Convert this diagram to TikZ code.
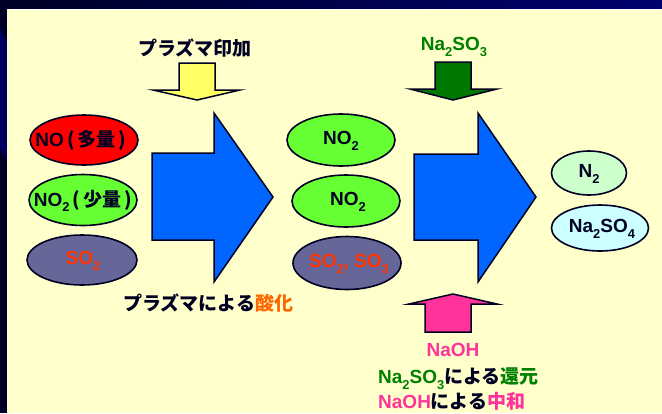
\documentclass[tikz,border=0pt]{standalone}
\usepackage{fontspec}
\setmainfont{Liberation Sans}
\newfontfamily\jp{Noto Sans CJK JP}
\usetikzlibrary{shapes.geometric}
\definecolor{bgy}{RGB}{255,255,204}
\definecolor{navyd}{RGB}{0,0,38}
\definecolor{navyb}{RGB}{0,0,110}
\definecolor{ink}{RGB}{0,0,35}
\definecolor{ablue}{RGB}{0,102,255}
\definecolor{ayel}{RGB}{255,255,102}
\definecolor{agreen}{RGB}{0,120,0}
\definecolor{tgreen}{RGB}{0,128,0}
\definecolor{apink}{RGB}{255,51,153}
\definecolor{ored}{RGB}{255,51,0}
\definecolor{oorange}{RGB}{255,102,0}
\definecolor{ered}{RGB}{255,0,0}
\definecolor{egreen}{RGB}{102,255,51}
\definecolor{epurple}{RGB}{102,102,153}
\definecolor{elgreen}{RGB}{204,255,204}
\definecolor{elcyan}{RGB}{204,255,255}
\newcommand\sbs[1]{\raisebox{-0.3em}{\scalebox{0.68}{#1}}}
\newcommand\jpb{\jp\bfseries}
\tikzset{
  oval/.style={ellipse, draw=ink, line width=1.6pt, inner sep=0pt},
  lbl/.style={font=\fontsize{19}{21}\selectfont\bfseries, text=ink, inner sep=0pt},
  captxt/.style={font=\fontsize{19}{22}\selectfont\bfseries, text=ink, inner sep=0pt},
  barrow/.style={draw=ink, line width=1.5pt, line join=miter},
}
\begin{document}
\begin{tikzpicture}[x=1pt,y=-1pt]
\useasboundingbox (0,0) rectangle (662,413);
% slide background
\fill[navyd] (0,0) rectangle (662,413);
\shade[left color=navyd, right color=navyb] (0,0) rectangle (662,9);
\fill[navyb!80!navyd] (0,28) -- (7,42) -- (7,160) -- (0,148) -- cycle;
\fill[bgy] (7,9) rectangle (662,413);
\draw[white, line width=0.8pt] (7,9.4) -- (662,9.4);

% big process arrows
\filldraw[fill=ablue, barrow] (152,153) -- (214,153) -- (214,113) -- (273,197) -- (214,282) -- (214,240) -- (152,240) -- cycle;
\filldraw[fill=ablue, barrow] (414,154) -- (478,154) -- (478,113) -- (536,197) -- (478,282) -- (478,240) -- (414,240) -- cycle;

% small input arrows
\filldraw[fill=ayel, barrow] (179,63) -- (215,63) -- (215,90) -- (240,90) -- (197,100) -- (153,90) -- (179,90) -- cycle;
\filldraw[fill=agreen, barrow] (435,62) -- (471,62) -- (471,89) -- (497,89) -- (453,100) -- (410,89) -- (435,89) -- cycle;
\filldraw[fill=apink, barrow] (425,332) -- (471,332) -- (471,304) -- (497,304) -- (453,294) -- (409,304) -- (425,304) -- cycle;

% captions
\node[captxt] (plasma) at (195,48) {\jpb プラズマ印加};
\node[captxt, text=tgreen] (na2so3) at (454,47) {Na\sbs{2}SO\sbs{3}};
\node[captxt, anchor=west] (oxid) at (123,303) {\jpb プラズマによる{\color{oorange}酸化}};
\node[captxt, text=apink] (naoh) at (453,350) {NaOH};
\node[captxt, anchor=west] (red) at (378,379) {{\color{tgreen}Na\sbs{2}SO\sbs{3}}{\jpb による{\color{tgreen}還元}}};
\node[captxt, anchor=west] (neu) at (378,401.5) {{\color{apink}NaOH}{\jpb による{\color{apink}中和}}};

% left column
\node[oval, fill=ered, minimum width=108pt, minimum height=50pt] (no1) at (84,140) {};
\node[lbl] at (81,140) {NO\,{\jpb(\,多量\,)}};
\node[oval, fill=egreen, minimum width=108pt, minimum height=51pt] (no2a) at (83,200) {};
\node[lbl] at (83,201) {NO\sbs{2}\,{\jpb(\,少量\,)}};
\node[oval, fill=epurple, minimum width=110pt, minimum height=50pt] (so2a) at (82,260) {};
\node[lbl, text=ored] at (83,261) {SO\sbs{2}};

% middle column
\node[oval, fill=egreen, minimum width=108pt, minimum height=52pt] (no2b) at (341,140) {};
\node[lbl] at (341,141) {NO\sbs{2}};
\node[oval, fill=egreen, minimum width=108pt, minimum height=52pt] (no2c) at (346,201) {};
\node[lbl] at (348,202) {NO\sbs{2}};
\node[oval, fill=epurple, minimum width=108pt, minimum height=53pt] (sox) at (347,263) {};
\node[lbl, text=ored] at (349,264) {SO\sbs{2}, SO\sbs{3}};

% right column
\node[oval, fill=elgreen, minimum width=75pt, minimum height=44pt] (n2) at (589,173) {};
\node[lbl] at (589,174) {N\sbs{2}};
\node[oval, fill=elcyan, minimum width=97pt, minimum height=46pt] (na2so4) at (600,228) {};
\node[lbl] at (602,229) {Na\sbs{2}SO\sbs{4}};
\end{tikzpicture}
\end{document}
